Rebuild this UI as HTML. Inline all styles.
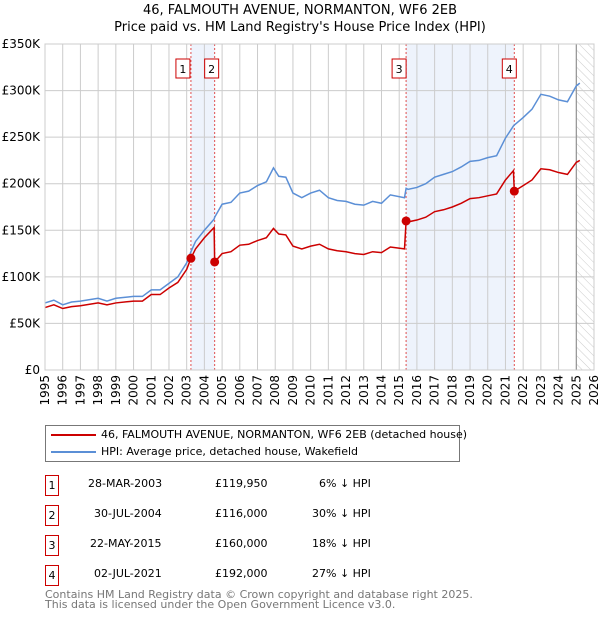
<!DOCTYPE html>
<html><head><meta charset="utf-8"><style>
body{margin:0;width:600px;height:620px;background:#fff;font-family:"Liberation Sans","DejaVu Sans",sans-serif;overflow:hidden}
svg text{font-family:"DejaVu Sans","Liberation Sans",sans-serif}
div{white-space:nowrap}
</style></head><body>
<svg id="c" width="600" height="620"></svg>
<script>
const dates=[1995,1995.5,1996,1996.5,1997,1998,1998.5,1999,2000,2000.5,2001,2001.5,2002,2002.5,2003,2003.24,2003.5,2004,2004.55,2004.58,2005,2005.5,2006,2006.5,2007,2007.5,2007.9,2008.2,2008.6,2009,2009.5,2010,2010.5,2011,2011.5,2012,2012.5,2013,2013.5,2014,2014.5,2015.3,2015.39,2015.5,2016,2016.5,2017,2017.5,2018,2018.5,2019,2019.5,2020,2020.5,2021,2021.45,2021.5,2022,2022.5,2023,2023.5,2024,2024.5,2025,2025.2];
const hpi=[72,75,70,73,74,77,74,77,79,79,86,86,93,100,115,127,138,150,162,164,178,180,190,192,198,202,217,208,207,190,185,190,193,185,182,181,178,177,181,179,188,185,195,194,196,200,207,210,213,218,224,225,228,230,249,262,263,271,280,296,294,290,288,305,308];
const paid=[67,70,66,68,69,72,70,72,74,74,81,81,88,94,108,120,130,142,153,116,125,127,134,135,139,142,152,146,145,133,130,133,135,130,128,127,125,124,127,126,132,130,160,159,161,164,170,172,175,179,184,185,187,189,204,214,192,198,204,216,215,212,210,223,225];
const saleDates=[2003.24,2004.58,2015.39,2021.5];
const salePrices=[119.95,116,160,192];
const yTicks=[0,50,100,150,200,250,300,350];
const yLabels=["£0","£50K","£100K","£150K","£200K","£250K","£300K","£350K"];
const xYears=[];for(let y=1995;y<=2026;y++)xYears.push(y);
const L=45,R=594,T=44,B=370;
const X=d=>L+(d-1995)*(R-L)/31, Y=v=>B-v*(B-T)/350;
const s=document.getElementById('c'),NS="http://www.w3.org/2000/svg";
function el(t,a,p){const e=document.createElementNS(NS,t);for(const k in a)e.setAttribute(k,a[k]);(p||s).appendChild(e);return e;}
function tx(x,y,str,a){const e=el('text',Object.assign({x:x,y:y,'font-size':12,fill:'#000'},a||{}));e.textContent=str;return e;}
let e;
e=tx(300,14,"46, FALMOUTH AVENUE, NORMANTON, WF6 2EB",{'text-anchor':'middle','font-size':13});

e=tx(300,31,"Price paid vs. HM Land Registry's House Price Index (HPI)",{'text-anchor':'middle','font-size':13});

[[0,1],[2,3]].forEach((p,i)=>{e=el('rect',{x:X(saleDates[p[0]]),y:T,width:X(saleDates[p[1]])-X(saleDates[p[0]]),height:B-T,fill:'#eef3fc'});
});
const defs=el('defs',{});const pat=el('pattern',{id:'h',width:6,height:6,patternUnits:'userSpaceOnUse',patternTransform:'rotate(-45)'},defs);
el('line',{x1:0,y1:0,x2:0,y2:6,stroke:'#ccc','stroke-width':1},pat);
e=el('rect',{x:X(2025),y:T,width:R-X(2025),height:B-T,fill:'url(#h)'});

xYears.forEach(y=>{e=el('line',{x1:X(y),x2:X(y),y1:T,y2:B,stroke:'#ccc','stroke-width':1});

e=tx(0,0,String(y),{transform:`translate(${X(y)+4},${B+5}) rotate(-90)`,'text-anchor':'end'});
});
yTicks.forEach((v,i)=>{e=el('line',{x1:L,x2:R,y1:Y(v),y2:Y(v),stroke:'#ccc','stroke-width':1});

e=tx(L-5,Y(v)+4,yLabels[i],{'text-anchor':'end'});
});
e=el('line',{x1:X(2025),x2:X(2025),y1:T,y2:B,stroke:'#888','stroke-width':1});

saleDates.forEach((d,i)=>{e=el('line',{x1:X(d),x2:X(d),y1:T,y2:B,stroke:'#e05050','stroke-width':1,'stroke-dasharray':'2,2'});
});
e=el('polyline',{points:dates.map((d,i)=>X(d)+','+Y(hpi[i])).join(' '),fill:'none',stroke:'#5b8fd6','stroke-width':1.5});

e=el('polyline',{points:dates.map((d,i)=>X(d)+','+Y(paid[i])).join(' '),fill:'none',stroke:'#cc0000','stroke-width':1.5});

saleDates.forEach((d,i)=>{e=el('circle',{cx:X(d),cy:Y(salePrices[i]),r:4.5,fill:'#cc0000'});

const bx=X(d)+(i==0?-8:i==1?-3:i==2?-7:-5)-7;
e=el('rect',{x:bx,y:59,width:14,height:19,fill:'#fff',stroke:'#cc0000','stroke-width':1});

e=tx(bx+7,73,String(i+1),{'text-anchor':'middle','font-size':11});
});
e=el('rect',{x:L,y:T,width:R-L,height:B-T,fill:'none',stroke:'#ccc'});
</script>
<div style="position:absolute;left:45px;top:425px;width:413px;height:35px;border:1px solid #777;font-size:11px;font-family:'DejaVu Sans','Liberation Sans',sans-serif">
<div style="position:absolute;left:5px;top:8px;width:45px;height:2px;background:#cc0000"></div>
<div style="position:absolute;left:55px;top:2px">46, FALMOUTH AVENUE, NORMANTON, WF6 2EB (detached house)</div>
<div style="position:absolute;left:5px;top:25px;width:45px;height:2px;background:#5b8fd6"></div>
<div style="position:absolute;left:55px;top:19px">HPI: Average price, detached house, Wakefield</div>
</div>
<div style="position:absolute;left:0;top:0;font-size:11px;font-family:'DejaVu Sans','Liberation Sans',sans-serif">
<div style="position:absolute;left:45px;top:475px;width:12px;height:19px;border:1px solid #cc0000;text-align:center;line-height:19px">1</div>
<div style="position:absolute;left:88px;top:477px">28-MAR-2003</div><div style="position:absolute;left:215px;top:477px">£119,950</div><div style="position:absolute;left:319px;top:477px">6% ↓ HPI</div>
<div style="position:absolute;left:45px;top:505px;width:12px;height:19px;border:1px solid #cc0000;text-align:center;line-height:19px">2</div>
<div style="position:absolute;left:94px;top:507px">30-JUL-2004</div><div style="position:absolute;left:215px;top:507px">£116,000</div><div style="position:absolute;left:312px;top:507px">30% ↓ HPI</div>
<div style="position:absolute;left:45px;top:535px;width:12px;height:19px;border:1px solid #cc0000;text-align:center;line-height:19px">3</div>
<div style="position:absolute;left:90px;top:537px">22-MAY-2015</div><div style="position:absolute;left:215px;top:537px">£160,000</div><div style="position:absolute;left:312px;top:537px">18% ↓ HPI</div>
<div style="position:absolute;left:45px;top:565px;width:12px;height:19px;border:1px solid #cc0000;text-align:center;line-height:19px">4</div>
<div style="position:absolute;left:94px;top:567px">02-JUL-2021</div><div style="position:absolute;left:215px;top:567px">£192,000</div><div style="position:absolute;left:312px;top:567px">27% ↓ HPI</div>
</div>
<div style="position:absolute;left:45px;top:590px;font-size:11px;line-height:10px;color:#777;font-family:'DejaVu Sans','Liberation Sans',sans-serif">Contains HM Land Registry data © Crown copyright and database right 2025.<br>This data is licensed under the Open Government Licence v3.0.</div>
</body></html>
